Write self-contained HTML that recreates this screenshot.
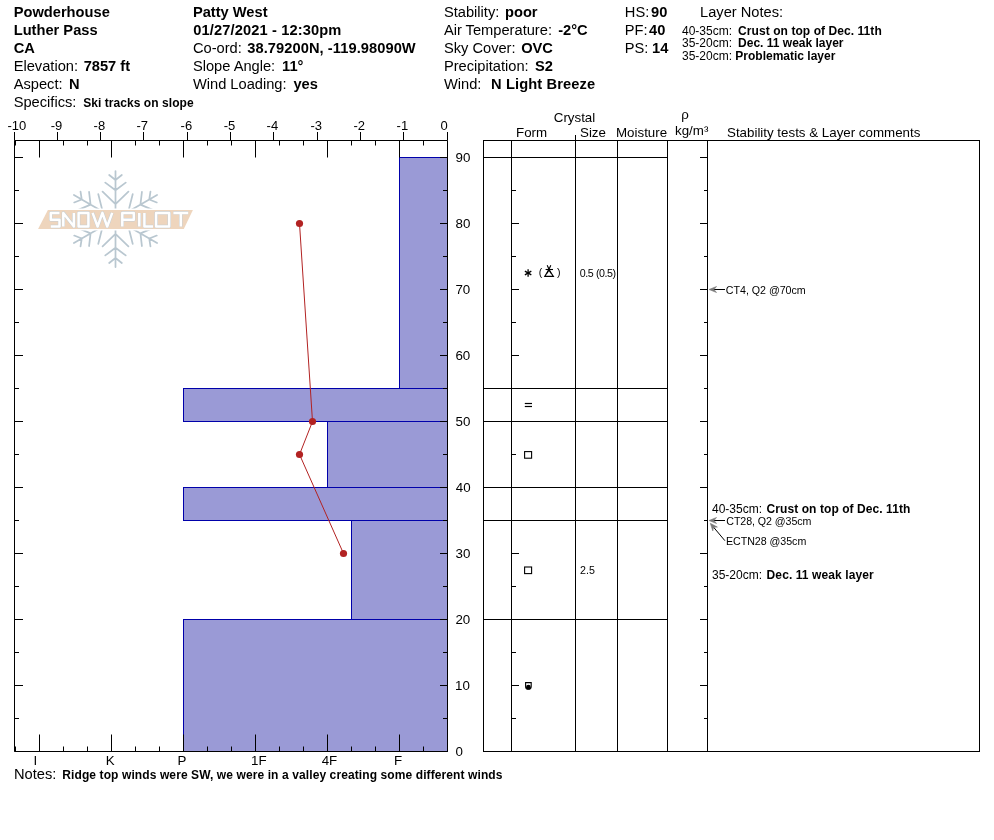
<!DOCTYPE html>
<html><head><meta charset="utf-8"><style>
html,body{margin:0;padding:0;background:#fff;}
svg{display:block;will-change:transform;}
text{font-family:"Liberation Sans",sans-serif;fill:#000;}
</style></head><body>
<svg width="994" height="840" viewBox="0 0 994 840">

<text x="13.7" y="16.7" font-size="14.667"  xml:space="preserve"><tspan font-weight="bold">Powderhouse</tspan></text>
<text x="13.7" y="34.7" font-size="14.667"  xml:space="preserve"><tspan font-weight="bold">Luther Pass</tspan></text>
<text x="13.7" y="52.6" font-size="14.667"  xml:space="preserve"><tspan font-weight="bold">CA</tspan></text>
<text x="13.7" y="70.6" font-size="14.667"  xml:space="preserve"><tspan>Elevation:</tspan></text>
<text x="83.67" y="70.6" font-size="14.667"  xml:space="preserve"><tspan font-weight="bold">7857 ft</tspan></text>
<text x="13.7" y="88.6" font-size="14.667"  xml:space="preserve"><tspan>Aspect:</tspan></text>
<text x="69.02" y="88.6" font-size="14.667"  xml:space="preserve"><tspan font-weight="bold">N</tspan></text>
<text x="13.7" y="106.6" font-size="14.667"  xml:space="preserve"><tspan>Specifics:</tspan></text>
<text x="83.15" y="106.6" font-size="12" textLength="110.46" lengthAdjust="spacing" xml:space="preserve"><tspan font-weight="bold">Ski tracks on slope</tspan></text>
<text x="192.9" y="16.7" font-size="14.667"  xml:space="preserve"><tspan font-weight="bold">Patty West</tspan></text>
<text x="193.32" y="34.7" font-size="14.667" textLength="148.09" lengthAdjust="spacing" xml:space="preserve"><tspan font-weight="bold">01/27/2021 - 12:30pm</tspan></text>
<text x="192.9" y="52.6" font-size="14.667"  xml:space="preserve"><tspan>Co-ord:</tspan></text>
<text x="247.26" y="52.6" font-size="14.667" textLength="168.45" lengthAdjust="spacing" xml:space="preserve"><tspan font-weight="bold">38.79200N, -119.98090W</tspan></text>
<text x="192.9" y="70.6" font-size="14.667"  xml:space="preserve"><tspan>Slope Angle:</tspan></text>
<text x="282.08" y="70.6" font-size="14.667"  xml:space="preserve"><tspan font-weight="bold">11°</tspan></text>
<text x="192.9" y="88.6" font-size="14.667"  xml:space="preserve"><tspan>Wind Loading:</tspan></text>
<text x="293.39" y="88.6" font-size="14.667"  xml:space="preserve"><tspan font-weight="bold">yes</tspan></text>
<text x="443.9" y="16.7" font-size="14.667"  xml:space="preserve"><tspan>Stability:</tspan></text>
<text x="505.03" y="16.7" font-size="14.667"  xml:space="preserve"><tspan font-weight="bold">poor</tspan></text>
<text x="443.9" y="34.7" font-size="14.667"  xml:space="preserve"><tspan>Air Temperature:</tspan></text>
<text x="558.23" y="34.7" font-size="14.667"  xml:space="preserve"><tspan font-weight="bold">-2°C</tspan></text>
<text x="443.9" y="52.6" font-size="14.667"  xml:space="preserve"><tspan>Sky Cover:</tspan></text>
<text x="521.2" y="52.6" font-size="14.667"  xml:space="preserve"><tspan font-weight="bold">OVC</tspan></text>
<text x="443.9" y="70.6" font-size="14.667"  xml:space="preserve"><tspan>Precipitation:</tspan></text>
<text x="535.08" y="70.6" font-size="14.667"  xml:space="preserve"><tspan font-weight="bold">S2</tspan></text>
<text x="443.9" y="88.6" font-size="14.667"  xml:space="preserve"><tspan>Wind:</tspan></text>
<text x="491.02" y="88.6" font-size="14.667" textLength="104.08" lengthAdjust="spacing" xml:space="preserve"><tspan font-weight="bold">N Light Breeze</tspan></text>
<text x="624.8" y="16.7" font-size="14.667"  xml:space="preserve"><tspan>HS:</tspan></text>
<text x="651.09" y="16.7" font-size="14.667"  xml:space="preserve"><tspan font-weight="bold">90</tspan></text>
<text x="624.8" y="34.7" font-size="14.667"  xml:space="preserve"><tspan>PF:</tspan></text>
<text x="649.08" y="34.7" font-size="14.667"  xml:space="preserve"><tspan font-weight="bold">40</tspan></text>
<text x="624.8" y="52.6" font-size="14.667"  xml:space="preserve"><tspan>PS:</tspan></text>
<text x="652.08" y="52.6" font-size="14.667"  xml:space="preserve"><tspan font-weight="bold">14</tspan></text>
<text x="700" y="16.7" font-size="14.667"  xml:space="preserve"><tspan>Layer Notes:</tspan></text>
<text x="682" y="34.6" font-size="12"  xml:space="preserve"><tspan>40-35cm:</tspan></text>
<text x="738.11" y="34.6" font-size="12" textLength="143.64" lengthAdjust="spacing" xml:space="preserve"><tspan font-weight="bold">Crust on top of Dec. 11th</tspan></text>
<text x="682" y="47.3" font-size="12"  xml:space="preserve"><tspan>35-20cm:</tspan></text>
<text x="738.1" y="47.3" font-size="12"  xml:space="preserve"><tspan font-weight="bold">Dec. 11 weak layer</tspan></text>
<text x="682" y="60.2" font-size="12"  xml:space="preserve"><tspan>35-20cm:</tspan></text>
<text x="735.3" y="60.2" font-size="12"  xml:space="preserve"><tspan font-weight="bold">Problematic layer</tspan></text>
<rect x="399.5" y="157.5" width="48.0" height="231.0" fill="#9a9ad6" stroke="#0000aa" stroke-width="1" />
<rect x="183.5" y="388.5" width="264.0" height="33.0" fill="#9a9ad6" stroke="#0000aa" stroke-width="1" />
<rect x="327.5" y="421.5" width="120.0" height="66.0" fill="#9a9ad6" stroke="#0000aa" stroke-width="1" />
<rect x="183.5" y="487.5" width="264.0" height="33.0" fill="#9a9ad6" stroke="#0000aa" stroke-width="1" />
<rect x="351.5" y="520.5" width="96.0" height="99.0" fill="#9a9ad6" stroke="#0000aa" stroke-width="1" />
<rect x="183.5" y="619.5" width="264.0" height="132.0" fill="#9a9ad6" stroke="#0000aa" stroke-width="1" />
<line x1="14.5" y1="140.5" x2="447.5" y2="140.5" stroke="#000" stroke-width="1" />
<line x1="14.5" y1="140.5" x2="14.5" y2="751.5" stroke="#000" stroke-width="1" />
<line x1="447.5" y1="140.5" x2="447.5" y2="751.5" stroke="#000" stroke-width="1" />
<line x1="14.5" y1="751.5" x2="447.5" y2="751.5" stroke="#000" stroke-width="1" />
<line x1="14.5" y1="132" x2="14.5" y2="140.5" stroke="#000" stroke-width="1" />
<text x="7.52" y="130" font-size="13"  xml:space="preserve"><tspan>-10</tspan></text>
<line x1="57.5" y1="132" x2="57.5" y2="140.5" stroke="#000" stroke-width="1" />
<text x="50.72" y="130" font-size="13"  xml:space="preserve"><tspan>-9</tspan></text>
<line x1="100.5" y1="132" x2="100.5" y2="140.5" stroke="#000" stroke-width="1" />
<text x="93.62" y="130" font-size="13"  xml:space="preserve"><tspan>-8</tspan></text>
<line x1="143.5" y1="132" x2="143.5" y2="140.5" stroke="#000" stroke-width="1" />
<text x="136.52" y="130" font-size="13"  xml:space="preserve"><tspan>-7</tspan></text>
<line x1="187.5" y1="132" x2="187.5" y2="140.5" stroke="#000" stroke-width="1" />
<text x="180.62" y="130" font-size="13"  xml:space="preserve"><tspan>-6</tspan></text>
<line x1="230.5" y1="132" x2="230.5" y2="140.5" stroke="#000" stroke-width="1" />
<text x="223.72" y="130" font-size="13"  xml:space="preserve"><tspan>-5</tspan></text>
<line x1="273.5" y1="132" x2="273.5" y2="140.5" stroke="#000" stroke-width="1" />
<text x="266.62" y="130" font-size="13"  xml:space="preserve"><tspan>-4</tspan></text>
<line x1="317.5" y1="132" x2="317.5" y2="140.5" stroke="#000" stroke-width="1" />
<text x="310.52" y="130" font-size="13"  xml:space="preserve"><tspan>-3</tspan></text>
<line x1="360.5" y1="132" x2="360.5" y2="140.5" stroke="#000" stroke-width="1" />
<text x="353.52" y="130" font-size="13"  xml:space="preserve"><tspan>-2</tspan></text>
<line x1="403.5" y1="132" x2="403.5" y2="140.5" stroke="#000" stroke-width="1" />
<text x="396.62" y="130" font-size="13"  xml:space="preserve"><tspan>-1</tspan></text>
<line x1="447.5" y1="132" x2="447.5" y2="140.5" stroke="#000" stroke-width="1" />
<text x="440.49" y="130" font-size="13"  xml:space="preserve"><tspan>0</tspan></text>
<line x1="15.5" y1="140.5" x2="15.5" y2="145.5" stroke="#000" stroke-width="1" />
<line x1="15.5" y1="751.5" x2="15.5" y2="746.5" stroke="#000" stroke-width="1" />
<line x1="39.5" y1="140.5" x2="39.5" y2="157.5" stroke="#000" stroke-width="1" />
<line x1="39.5" y1="751.5" x2="39.5" y2="734.5" stroke="#000" stroke-width="1" />
<line x1="63.5" y1="140.5" x2="63.5" y2="145.5" stroke="#000" stroke-width="1" />
<line x1="63.5" y1="751.5" x2="63.5" y2="746.5" stroke="#000" stroke-width="1" />
<line x1="87.5" y1="140.5" x2="87.5" y2="145.5" stroke="#000" stroke-width="1" />
<line x1="87.5" y1="751.5" x2="87.5" y2="746.5" stroke="#000" stroke-width="1" />
<line x1="111.5" y1="140.5" x2="111.5" y2="157.5" stroke="#000" stroke-width="1" />
<line x1="111.5" y1="751.5" x2="111.5" y2="734.5" stroke="#000" stroke-width="1" />
<line x1="135.5" y1="140.5" x2="135.5" y2="145.5" stroke="#000" stroke-width="1" />
<line x1="135.5" y1="751.5" x2="135.5" y2="746.5" stroke="#000" stroke-width="1" />
<line x1="159.5" y1="140.5" x2="159.5" y2="145.5" stroke="#000" stroke-width="1" />
<line x1="159.5" y1="751.5" x2="159.5" y2="746.5" stroke="#000" stroke-width="1" />
<line x1="183.5" y1="140.5" x2="183.5" y2="157.5" stroke="#000" stroke-width="1" />
<line x1="183.5" y1="751.5" x2="183.5" y2="734.5" stroke="#000" stroke-width="1" />
<line x1="207.5" y1="140.5" x2="207.5" y2="145.5" stroke="#000" stroke-width="1" />
<line x1="207.5" y1="751.5" x2="207.5" y2="746.5" stroke="#000" stroke-width="1" />
<line x1="231.5" y1="140.5" x2="231.5" y2="145.5" stroke="#000" stroke-width="1" />
<line x1="231.5" y1="751.5" x2="231.5" y2="746.5" stroke="#000" stroke-width="1" />
<line x1="255.5" y1="140.5" x2="255.5" y2="157.5" stroke="#000" stroke-width="1" />
<line x1="255.5" y1="751.5" x2="255.5" y2="734.5" stroke="#000" stroke-width="1" />
<line x1="279.5" y1="140.5" x2="279.5" y2="145.5" stroke="#000" stroke-width="1" />
<line x1="279.5" y1="751.5" x2="279.5" y2="746.5" stroke="#000" stroke-width="1" />
<line x1="303.5" y1="140.5" x2="303.5" y2="145.5" stroke="#000" stroke-width="1" />
<line x1="303.5" y1="751.5" x2="303.5" y2="746.5" stroke="#000" stroke-width="1" />
<line x1="327.5" y1="140.5" x2="327.5" y2="157.5" stroke="#000" stroke-width="1" />
<line x1="327.5" y1="751.5" x2="327.5" y2="734.5" stroke="#000" stroke-width="1" />
<line x1="351.5" y1="140.5" x2="351.5" y2="145.5" stroke="#000" stroke-width="1" />
<line x1="351.5" y1="751.5" x2="351.5" y2="746.5" stroke="#000" stroke-width="1" />
<line x1="375.5" y1="140.5" x2="375.5" y2="145.5" stroke="#000" stroke-width="1" />
<line x1="375.5" y1="751.5" x2="375.5" y2="746.5" stroke="#000" stroke-width="1" />
<line x1="399.5" y1="140.5" x2="399.5" y2="157.5" stroke="#000" stroke-width="1" />
<line x1="399.5" y1="751.5" x2="399.5" y2="734.5" stroke="#000" stroke-width="1" />
<line x1="423.5" y1="140.5" x2="423.5" y2="145.5" stroke="#000" stroke-width="1" />
<line x1="423.5" y1="751.5" x2="423.5" y2="746.5" stroke="#000" stroke-width="1" />
<text x="33.47" y="765" font-size="13.333"  xml:space="preserve"><tspan>I</tspan></text>
<text x="105.81" y="765" font-size="13.333"  xml:space="preserve"><tspan>K</tspan></text>
<text x="177.61" y="765" font-size="13.333"  xml:space="preserve"><tspan>P</tspan></text>
<text x="250.98" y="765" font-size="13.333"  xml:space="preserve"><tspan>1F</tspan></text>
<text x="321.69" y="765" font-size="13.333"  xml:space="preserve"><tspan>4F</tspan></text>
<text x="394.01" y="765" font-size="13.333"  xml:space="preserve"><tspan>F</tspan></text>
<line x1="14.5" y1="751.5" x2="23" y2="751.5" stroke="#000" stroke-width="1" />
<line x1="440" y1="751.5" x2="447.5" y2="751.5" stroke="#000" stroke-width="1" />
<text x="455.58" y="756.0" font-size="13.333"  xml:space="preserve"><tspan>0</tspan></text>
<line x1="14.5" y1="718.5" x2="19" y2="718.5" stroke="#000" stroke-width="1" />
<line x1="443" y1="718.5" x2="447.5" y2="718.5" stroke="#000" stroke-width="1" />
<line x1="14.5" y1="685.5" x2="23" y2="685.5" stroke="#000" stroke-width="1" />
<line x1="440" y1="685.5" x2="447.5" y2="685.5" stroke="#000" stroke-width="1" />
<text x="455.08" y="690.0" font-size="13.333"  xml:space="preserve"><tspan>10</tspan></text>
<line x1="14.5" y1="652.5" x2="19" y2="652.5" stroke="#000" stroke-width="1" />
<line x1="443" y1="652.5" x2="447.5" y2="652.5" stroke="#000" stroke-width="1" />
<line x1="14.5" y1="619.5" x2="23" y2="619.5" stroke="#000" stroke-width="1" />
<line x1="440" y1="619.5" x2="447.5" y2="619.5" stroke="#000" stroke-width="1" />
<text x="455.43" y="624.0" font-size="13.333"  xml:space="preserve"><tspan>20</tspan></text>
<line x1="14.5" y1="586.5" x2="19" y2="586.5" stroke="#000" stroke-width="1" />
<line x1="443" y1="586.5" x2="447.5" y2="586.5" stroke="#000" stroke-width="1" />
<line x1="14.5" y1="553.5" x2="23" y2="553.5" stroke="#000" stroke-width="1" />
<line x1="440" y1="553.5" x2="447.5" y2="553.5" stroke="#000" stroke-width="1" />
<text x="455.59" y="558.0" font-size="13.333"  xml:space="preserve"><tspan>30</tspan></text>
<line x1="14.5" y1="520.5" x2="19" y2="520.5" stroke="#000" stroke-width="1" />
<line x1="443" y1="520.5" x2="447.5" y2="520.5" stroke="#000" stroke-width="1" />
<line x1="14.5" y1="487.5" x2="23" y2="487.5" stroke="#000" stroke-width="1" />
<line x1="440" y1="487.5" x2="447.5" y2="487.5" stroke="#000" stroke-width="1" />
<text x="455.79" y="492.0" font-size="13.333"  xml:space="preserve"><tspan>40</tspan></text>
<line x1="14.5" y1="454.5" x2="19" y2="454.5" stroke="#000" stroke-width="1" />
<line x1="443" y1="454.5" x2="447.5" y2="454.5" stroke="#000" stroke-width="1" />
<line x1="14.5" y1="421.5" x2="23" y2="421.5" stroke="#000" stroke-width="1" />
<line x1="440" y1="421.5" x2="447.5" y2="421.5" stroke="#000" stroke-width="1" />
<text x="455.57" y="426.0" font-size="13.333"  xml:space="preserve"><tspan>50</tspan></text>
<line x1="14.5" y1="388.5" x2="19" y2="388.5" stroke="#000" stroke-width="1" />
<line x1="443" y1="388.5" x2="447.5" y2="388.5" stroke="#000" stroke-width="1" />
<line x1="14.5" y1="355.5" x2="23" y2="355.5" stroke="#000" stroke-width="1" />
<line x1="440" y1="355.5" x2="447.5" y2="355.5" stroke="#000" stroke-width="1" />
<text x="455.42" y="360.0" font-size="13.333"  xml:space="preserve"><tspan>60</tspan></text>
<line x1="14.5" y1="322.5" x2="19" y2="322.5" stroke="#000" stroke-width="1" />
<line x1="443" y1="322.5" x2="447.5" y2="322.5" stroke="#000" stroke-width="1" />
<line x1="14.5" y1="289.5" x2="23" y2="289.5" stroke="#000" stroke-width="1" />
<line x1="440" y1="289.5" x2="447.5" y2="289.5" stroke="#000" stroke-width="1" />
<text x="455.42" y="294.0" font-size="13.333"  xml:space="preserve"><tspan>70</tspan></text>
<line x1="14.5" y1="256.5" x2="19" y2="256.5" stroke="#000" stroke-width="1" />
<line x1="443" y1="256.5" x2="447.5" y2="256.5" stroke="#000" stroke-width="1" />
<line x1="14.5" y1="223.5" x2="23" y2="223.5" stroke="#000" stroke-width="1" />
<line x1="440" y1="223.5" x2="447.5" y2="223.5" stroke="#000" stroke-width="1" />
<text x="455.52" y="228.0" font-size="13.333"  xml:space="preserve"><tspan>80</tspan></text>
<line x1="14.5" y1="190.5" x2="19" y2="190.5" stroke="#000" stroke-width="1" />
<line x1="443" y1="190.5" x2="447.5" y2="190.5" stroke="#000" stroke-width="1" />
<line x1="14.5" y1="157.5" x2="23" y2="157.5" stroke="#000" stroke-width="1" />
<line x1="440" y1="157.5" x2="447.5" y2="157.5" stroke="#000" stroke-width="1" />
<text x="455.48" y="162.0" font-size="13.333"  xml:space="preserve"><tspan>90</tspan></text>
<polyline points="299.5,223.5 312.5,421.5 299.5,454.5 343.5,553.5" fill="none" stroke="#b22222" stroke-width="1"/>
<circle cx="299.5" cy="223.5" r="3.6" fill="#b22222"/>
<circle cx="312.5" cy="421.5" r="3.6" fill="#b22222"/>
<circle cx="299.5" cy="454.5" r="3.6" fill="#b22222"/>
<circle cx="343.5" cy="553.5" r="3.6" fill="#b22222"/>
<text x="14" y="778.5" font-size="14.667"  xml:space="preserve"><tspan>Notes: </tspan></text>
<text x="62.3" y="778.5" font-size="12" textLength="440.19" lengthAdjust="spacing" xml:space="preserve"><tspan font-weight="bold">Ridge top winds were SW, we were in a valley creating some different winds</tspan></text>
<rect x="483.5" y="140.5" width="496.0" height="611.0" fill="none" stroke="#000" stroke-width="1" />
<line x1="511.5" y1="140.5" x2="511.5" y2="751.5" stroke="#000" stroke-width="1" />
<line x1="575.5" y1="140.5" x2="575.5" y2="751.5" stroke="#000" stroke-width="1" />
<line x1="617.5" y1="140.5" x2="617.5" y2="751.5" stroke="#000" stroke-width="1" />
<line x1="667.5" y1="140.5" x2="667.5" y2="751.5" stroke="#000" stroke-width="1" />
<line x1="707.5" y1="140.5" x2="707.5" y2="751.5" stroke="#000" stroke-width="1" />
<line x1="575.5" y1="135" x2="575.5" y2="140.5" stroke="#000" stroke-width="1" />
<line x1="483.5" y1="157.5" x2="667.5" y2="157.5" stroke="#000" stroke-width="1" />
<line x1="483.5" y1="388.5" x2="667.5" y2="388.5" stroke="#000" stroke-width="1" />
<line x1="483.5" y1="421.5" x2="667.5" y2="421.5" stroke="#000" stroke-width="1" />
<line x1="483.5" y1="487.5" x2="667.5" y2="487.5" stroke="#000" stroke-width="1" />
<line x1="483.5" y1="520.5" x2="667.5" y2="520.5" stroke="#000" stroke-width="1" />
<line x1="483.5" y1="619.5" x2="667.5" y2="619.5" stroke="#000" stroke-width="1" />
<line x1="511.5" y1="751.5" x2="519" y2="751.5" stroke="#000" stroke-width="1" />
<line x1="700" y1="751.5" x2="707.5" y2="751.5" stroke="#000" stroke-width="1" />
<line x1="511.5" y1="718.5" x2="516" y2="718.5" stroke="#000" stroke-width="1" />
<line x1="704" y1="718.5" x2="707.5" y2="718.5" stroke="#000" stroke-width="1" />
<line x1="511.5" y1="685.5" x2="519" y2="685.5" stroke="#000" stroke-width="1" />
<line x1="700" y1="685.5" x2="707.5" y2="685.5" stroke="#000" stroke-width="1" />
<line x1="511.5" y1="652.5" x2="516" y2="652.5" stroke="#000" stroke-width="1" />
<line x1="704" y1="652.5" x2="707.5" y2="652.5" stroke="#000" stroke-width="1" />
<line x1="700" y1="619.5" x2="707.5" y2="619.5" stroke="#000" stroke-width="1" />
<line x1="511.5" y1="586.5" x2="516" y2="586.5" stroke="#000" stroke-width="1" />
<line x1="704" y1="586.5" x2="707.5" y2="586.5" stroke="#000" stroke-width="1" />
<line x1="511.5" y1="553.5" x2="519" y2="553.5" stroke="#000" stroke-width="1" />
<line x1="700" y1="553.5" x2="707.5" y2="553.5" stroke="#000" stroke-width="1" />
<line x1="704" y1="520.5" x2="707.5" y2="520.5" stroke="#000" stroke-width="1" />
<line x1="700" y1="487.5" x2="707.5" y2="487.5" stroke="#000" stroke-width="1" />
<line x1="511.5" y1="454.5" x2="516" y2="454.5" stroke="#000" stroke-width="1" />
<line x1="704" y1="454.5" x2="707.5" y2="454.5" stroke="#000" stroke-width="1" />
<line x1="700" y1="421.5" x2="707.5" y2="421.5" stroke="#000" stroke-width="1" />
<line x1="704" y1="388.5" x2="707.5" y2="388.5" stroke="#000" stroke-width="1" />
<line x1="511.5" y1="355.5" x2="519" y2="355.5" stroke="#000" stroke-width="1" />
<line x1="700" y1="355.5" x2="707.5" y2="355.5" stroke="#000" stroke-width="1" />
<line x1="511.5" y1="322.5" x2="516" y2="322.5" stroke="#000" stroke-width="1" />
<line x1="704" y1="322.5" x2="707.5" y2="322.5" stroke="#000" stroke-width="1" />
<line x1="511.5" y1="289.5" x2="519" y2="289.5" stroke="#000" stroke-width="1" />
<line x1="700" y1="289.5" x2="707.5" y2="289.5" stroke="#000" stroke-width="1" />
<line x1="511.5" y1="256.5" x2="516" y2="256.5" stroke="#000" stroke-width="1" />
<line x1="704" y1="256.5" x2="707.5" y2="256.5" stroke="#000" stroke-width="1" />
<line x1="511.5" y1="223.5" x2="519" y2="223.5" stroke="#000" stroke-width="1" />
<line x1="700" y1="223.5" x2="707.5" y2="223.5" stroke="#000" stroke-width="1" />
<line x1="511.5" y1="190.5" x2="516" y2="190.5" stroke="#000" stroke-width="1" />
<line x1="704" y1="190.5" x2="707.5" y2="190.5" stroke="#000" stroke-width="1" />
<line x1="700" y1="157.5" x2="707.5" y2="157.5" stroke="#000" stroke-width="1" />
<text x="574.5" y="121.5" font-size="13.333" text-anchor="middle"  xml:space="preserve"><tspan>Crystal</tspan></text>
<text x="516" y="136.5" font-size="13.333"  xml:space="preserve"><tspan>Form</tspan></text>
<text x="580" y="136.5" font-size="13.333"  xml:space="preserve"><tspan>Size</tspan></text>
<text x="616" y="136.5" font-size="13.333"  xml:space="preserve"><tspan>Moisture</tspan></text>
<text x="685" y="119" font-size="13.333" text-anchor="middle"  xml:space="preserve"><tspan>ρ</tspan></text>
<text x="675" y="134.5" font-size="13.333"  xml:space="preserve"><tspan>kg/m³</tspan></text>
<text x="727" y="136.5" font-size="13.333"  xml:space="preserve"><tspan>Stability tests &amp; Layer comments</tspan></text>
<text x="579.78" y="276.7" font-size="10.667" textLength="36.38" lengthAdjust="spacing" xml:space="preserve"><tspan>0.5 (0.5)</tspan></text>
<text x="580" y="573.5" font-size="10.667"  xml:space="preserve"><tspan>2.5</tspan></text>
<text x="725.86" y="293.6" font-size="10.667" textLength="79.84" lengthAdjust="spacing" xml:space="preserve"><tspan>CT4, Q2 @70cm</tspan></text>
<text x="712" y="512.6" font-size="12"  xml:space="preserve"><tspan>40-35cm:</tspan></text>
<text x="766.61" y="512.6" font-size="12" textLength="143.74" lengthAdjust="spacing" xml:space="preserve"><tspan font-weight="bold">Crust on top of Dec. 11th</tspan></text>
<text x="726.26" y="524.6" font-size="10.667" textLength="85.24" lengthAdjust="spacing" xml:space="preserve"><tspan>CT28, Q2 @35cm</tspan></text>
<text x="725.92" y="544.5" font-size="10.667" textLength="80.38" lengthAdjust="spacing" xml:space="preserve"><tspan>ECTN28 @35cm</tspan></text>
<text x="712" y="578.6" font-size="12"  xml:space="preserve"><tspan>35-20cm:</tspan></text>
<text x="766.6" y="578.6" font-size="12" textLength="107.08" lengthAdjust="spacing" xml:space="preserve"><tspan font-weight="bold">Dec. 11 weak layer</tspan></text>
<g stroke="#000" stroke-width="1.1" fill="none" stroke-linecap="butt">
<line x1="528.1" y1="269.3" x2="528.1" y2="276.7" stroke="#000" stroke-width="1.3" />
<line x1="524.9" y1="271.15" x2="531.3" y2="274.85" stroke="#000" stroke-width="1.3" />
<line x1="531.3" y1="271.15" x2="524.9" y2="274.85" stroke="#000" stroke-width="1.3" />
</g>
<text x="538.64" y="275.9" font-size="10.667"  xml:space="preserve"><tspan>(</tspan></text>
<text x="556.94" y="275.9" font-size="10.667"  xml:space="preserve"><tspan>)</tspan></text>
<path d="M544.8,276.4 L548.9,269.6 L553.4,276.4 Z" fill="none" stroke="#000" stroke-width="1.1"/>
<line x1="545.6" y1="269.5" x2="553" y2="269.5" stroke="#000" stroke-width="1.1" />
<line x1="547.2" y1="265.3" x2="550.8" y2="273.3" stroke="#000" stroke-width="1.1" />
<line x1="550.8" y1="265.3" x2="547.2" y2="273.3" stroke="#000" stroke-width="1.1" />
<line x1="524.8" y1="403.5" x2="532" y2="403.5" stroke="#000" stroke-width="1.2" />
<line x1="524.8" y1="406.5" x2="532" y2="406.5" stroke="#000" stroke-width="1.2" />
<rect x="524.6" y="451.6" width="7" height="6.6" fill="none" stroke="#000" stroke-width="1.1" />
<rect x="524.6" y="567.0" width="7" height="6.6" fill="none" stroke="#000" stroke-width="1.1" />
<path d="M525.6,682.6 H531.2 V686.5 A2.8,2.8 0 0 1 525.6,686.5 Z" fill="none" stroke="#000" stroke-width="1.1"/>
<circle cx="528.4" cy="687.2" r="2.4" fill="#000"/>
<line x1="725" y1="289.5" x2="714.0" y2="289.5" stroke="#000" stroke-width="1" />
<polygon points="709.00,289.50 716.50,292.50 714.00,289.50 716.50,286.50" fill="#7a7a7a" stroke="#7a7a7a" stroke-width="0.6"/>
<line x1="725" y1="520.5" x2="714.0" y2="520.5" stroke="#000" stroke-width="1" />
<polygon points="709.00,520.50 716.50,523.50 714.00,520.50 716.50,517.50" fill="#7a7a7a" stroke="#7a7a7a" stroke-width="0.6"/>
<line x1="724.9" y1="540.7" x2="713.5138949568898" y2="527.1302583732795" stroke="#000" stroke-width="1" />
<polygon points="710.30,523.30 712.82,530.97 713.51,527.13 717.42,527.12" fill="#7a7a7a" stroke="#7a7a7a" stroke-width="0.6"/>
<path d="M115.50,219.00L115.50,171.00M115.50,180.00L109.20,175.00M115.50,180.00L121.80,175.00M115.50,190.20L105.30,182.60M115.50,190.20L125.70,182.60M115.50,204.20L102.60,191.70M115.50,204.20L128.40,191.70M115.50,219.00L157.07,195.00M149.27,199.50L150.46,191.54M149.27,199.50L156.76,202.46M140.44,204.60L141.92,191.97M140.44,204.60L152.12,209.63M128.32,211.60L132.69,194.18M128.32,211.60L145.59,216.52M115.50,219.00L157.07,243.00M149.27,238.50L156.76,235.54M149.27,238.50L150.46,246.46M140.44,233.40L152.12,228.37M140.44,233.40L141.92,246.03M128.32,226.40L145.59,221.48M128.32,226.40L132.69,243.82M115.50,219.00L115.50,267.00M115.50,258.00L121.80,263.00M115.50,258.00L109.20,263.00M115.50,247.80L125.70,255.40M115.50,247.80L105.30,255.40M115.50,233.80L128.40,246.30M115.50,233.80L102.60,246.30M115.50,219.00L73.93,243.00M81.73,238.50L80.54,246.46M81.73,238.50L74.24,235.54M90.56,233.40L89.08,246.03M90.56,233.40L78.88,228.37M102.68,226.40L98.31,243.82M102.68,226.40L85.41,221.48M115.50,219.00L73.93,195.00M81.73,199.50L74.24,202.46M81.73,199.50L80.54,191.54M90.56,204.60L78.88,209.63M90.56,204.60L89.08,191.97M102.68,211.60L85.41,216.52M102.68,211.60L98.31,194.18" stroke="#b9c7d0" stroke-width="1.75" stroke-linecap="round" fill="none"/>
<polygon points="47.9,210 192.9,210 183.8,228.9 38.1,228.9" fill="#eed5bd" stroke="#fff" stroke-width="3" paint-order="stroke"/>
<path d="M59.5,212.9H50.8V219.7H59.5V226.5H50.8 M63.3,226.5V212.9L73.9,226.5V212.9 M78.6,212.9H88.4V226.5H78.6Z M92.6,212.9L97.6,226.5L102.4,212.9L107.2,226.5L112.2,212.9 M122.3,226.5V212.9H133.8V219.7H122.3 M139.3,212.9V226.5 M144.4,212.9V226.5H153 M156.1,212.9H169.2V226.5H156.1Z M173.4,212.9H188.2 M180.8,212.9V226.5" stroke="#c3ced6" stroke-width="3.4" fill="none" stroke-linejoin="round"/>
<path d="M59.5,212.9H50.8V219.7H59.5V226.5H50.8 M63.3,226.5V212.9L73.9,226.5V212.9 M78.6,212.9H88.4V226.5H78.6Z M92.6,212.9L97.6,226.5L102.4,212.9L107.2,226.5L112.2,212.9 M122.3,226.5V212.9H133.8V219.7H122.3 M139.3,212.9V226.5 M144.4,212.9V226.5H153 M156.1,212.9H169.2V226.5H156.1Z M173.4,212.9H188.2 M180.8,212.9V226.5" stroke="#fff" stroke-width="2.5" fill="none" stroke-linejoin="round"/>
</svg></body></html>
